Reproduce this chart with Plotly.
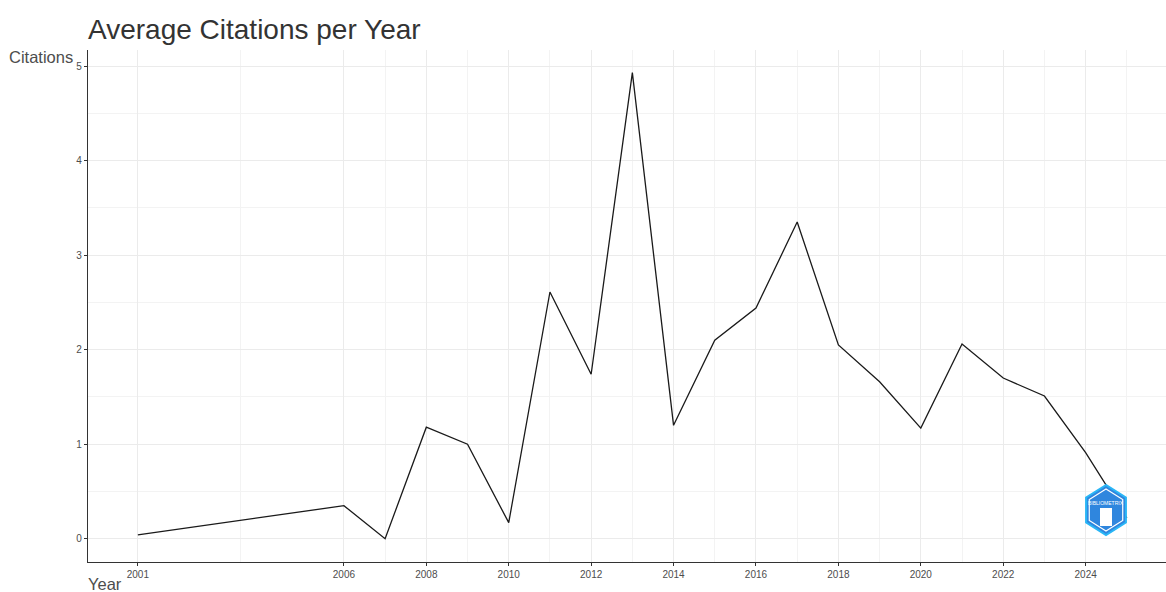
import math
import plotly.graph_objects as go

years = [2001, 2006, 2007, 2008, 2009, 2010, 2011, 2012, 2013, 2014, 2015, 2016,
         2017, 2018, 2019, 2020, 2021, 2022, 2023, 2024, 2025]
citations = [0.04, 0.35, 0.0, 1.18, 1.0, 0.17, 2.61, 1.74, 4.93, 1.2, 2.1, 2.44,
             3.35, 2.05, 1.66, 1.17, 2.06, 1.70, 1.51, 0.91, 0.22]
x_ticks = [2001, 2006, 2008, 2010, 2012, 2014, 2016, 2018, 2020, 2022, 2024]
x_minor = [2003.5, 2007, 2009, 2011, 2013, 2015, 2017, 2019, 2021, 2023, 2025]
y_ticks = [0, 1, 2, 3, 4, 5]
y_minor = [0.5, 1.5, 2.5, 3.5, 4.5]

W, H = 1166, 592
L, R, T, B = 88, 0, 50, 592 - 562
pw, ph = W - L - R, H - T - B

def px(xp):  # reference pixel x -> paper
    return (xp - L) / pw

def py(yp):  # reference pixel y -> paper
    return (H - B - yp) / ph

FONT = "Liberation Sans, Arial, sans-serif"

fig = go.Figure()
fig.add_trace(go.Scatter(x=years, y=citations, mode="lines",
                         line=dict(color="#1a1a1a", width=1.3),
                         hoverinfo="x+y", showlegend=False))

axis_font = dict(family=FONT, size=10, color="#4d4d4d")

fig.update_layout(
    width=W, height=H,
    margin=dict(l=L, r=R, t=T, b=B),
    paper_bgcolor="white", plot_bgcolor="white",
    title=dict(text="Average Citations per Year", x=88 / W, xanchor="left",
               xref="container", y=1 - 29 / H, yanchor="middle", yref="container",
               font=dict(family=FONT, size=28, color="#333333")),
    xaxis=dict(range=[1999.79, 2025.95], tickmode="array", tickvals=x_ticks,
               ticktext=[str(v) for v in x_ticks],
               showgrid=True, gridcolor="#ebebeb", gridwidth=1,
               minor=dict(tickmode="array", tickvals=x_minor, showgrid=True,
                          gridcolor="#f3f3f3", gridwidth=1, ticklen=0),
               showline=True, linecolor="#333333", linewidth=1.2,
               ticks="outside", ticklen=3, tickcolor="#333333",
               tickfont=axis_font, zeroline=False, fixedrange=True),
    yaxis=dict(range=[-0.246, 5.17], tickmode="array", tickvals=y_ticks,
               showgrid=True, gridcolor="#ebebeb", gridwidth=1,
               minor=dict(tickmode="array", tickvals=y_minor, showgrid=True,
                          gridcolor="#f3f3f3", gridwidth=1, ticklen=0),
               showline=True, linecolor="#333333", linewidth=1.2,
               ticks="outside", ticklen=3, tickcolor="#333333",
               tickfont=axis_font, zeroline=False, fixedrange=True),
    annotations=[
        dict(text="Citations", xref="paper", yref="paper", x=px(7), y=py(57),
             xanchor="left", yanchor="middle", showarrow=False,
             font=dict(family=FONT, size=16.5, color="#4d4d4d")),
        dict(text="Year", xref="paper", yref="paper", x=px(86), y=py(584),
             xanchor="left", yanchor="middle", showarrow=False,
             font=dict(family=FONT, size=16.5, color="#4d4d4d")),
        dict(text="BIBLIOMETRIX", xref="paper", yref="paper", x=px(1106), y=py(503),
             xanchor="center", yanchor="middle", showarrow=False,
             font=dict(family=FONT, size=5, color="white")),
    ],
)

# decorative logo hexagon (reference pixel placement converted to paper coords)
cx, cy, r = 1106, 510, 25

def hexpath(cx, cy, r):
    pts = []
    for k in range(6):
        a = math.radians(90 + 60 * k)
        pts.append((px(cx + r * math.cos(a) * 0.92), py(cy - r * math.sin(a))))
    return "M " + " L ".join(f"{a:.5f},{b:.5f}" for a, b in pts) + " Z"

fig.add_shape(type="path", path=hexpath(cx, cy, r), xref="paper", yref="paper",
              fillcolor="#2f86de", line=dict(color="#29b6f6", width=2), layer="above")
fig.add_shape(type="path", path=hexpath(cx, cy, r - 4), xref="paper", yref="paper",
              fillcolor="rgba(0,0,0,0)", line=dict(color="white", width=1.2), layer="above")
fig.add_shape(type="rect", xref="paper", yref="paper", x0=px(1100), x1=px(1112),
              y0=py(526), y1=py(508), fillcolor="white", line=dict(width=0), layer="above")

fig.write_html("out.html", config={"displayModeBar": False},
               post_script="document.body.style.margin='0';document.body.style.overflow='hidden';")
